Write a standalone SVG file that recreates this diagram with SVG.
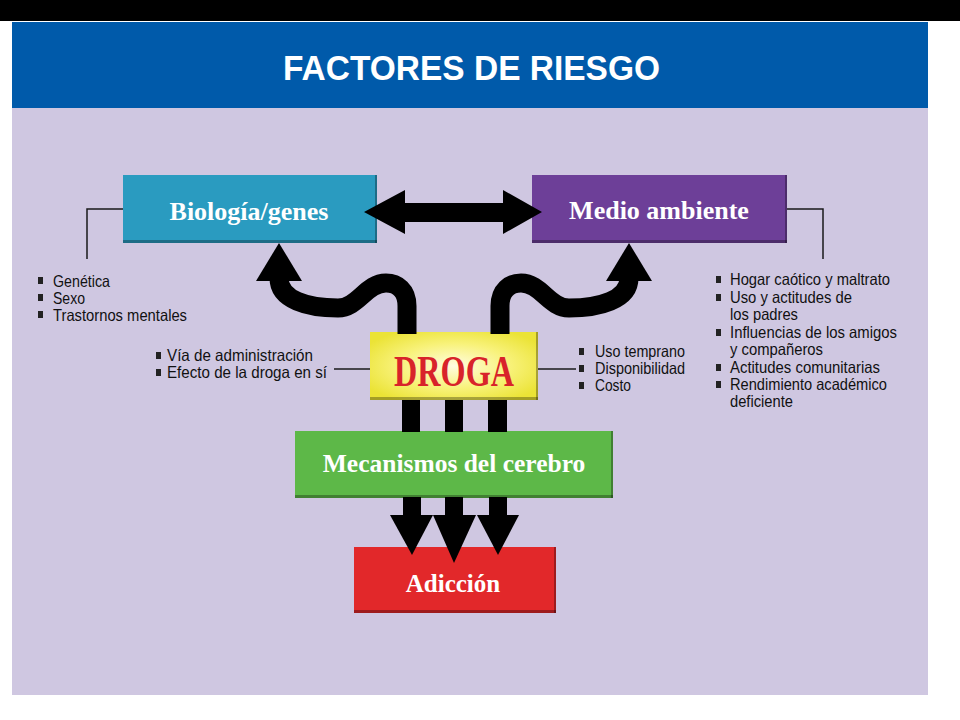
<svg xmlns="http://www.w3.org/2000/svg" width="960" height="720" viewBox="0 0 960 720">
<defs>
<style>
.title{font-family:"Liberation Sans","Arial",sans-serif;font-size:35px;font-weight:bold;fill:#ffffff;}
.box-label{font-family:"Liberation Serif","Times New Roman",serif;font-weight:bold;fill:#ffffff;text-anchor:middle;}
.list{font-family:"Liberation Sans","Arial",sans-serif;font-size:16.5px;fill:#111111;}
.leader{fill:none;stroke:#1a1a1a;stroke-width:1.5;}
.flow{fill:none;stroke:#000000;stroke-width:19;}
.bullet{fill:#222222;}
.shade{fill:#000000;opacity:0.3;}
</style>
<radialGradient id="yellowGrad" cx="0.5" cy="0.5" r="0.6">
<stop offset="0" stop-color="#FFFDE0"/>
<stop offset="0.55" stop-color="#F8F27A"/>
<stop offset="1" stop-color="#EBE336"/>
</radialGradient>
</defs>

<rect x="0" y="0" width="960" height="720" fill="#ffffff"/>
<rect x="0" y="0" width="960" height="21" fill="#000000"/>
<rect x="12" y="22" width="916" height="86" fill="#005AAA"/>
<rect x="12" y="108" width="916" height="587" fill="#CFC7E1"/>
<text class="title" x="283" y="80" textLength="377" lengthAdjust="spacingAndGlyphs">FACTORES DE RIESGO</text>

<g id="node-biologia">
<rect x="123" y="175" width="254" height="68" fill="#2A9BC0"/>
<rect class="shade" x="123" y="240" width="254" height="3"/>
<rect class="shade" x="375" y="175" width="2" height="68"/>
<text class="box-label" x="249" y="220" font-size="26">Biología/genes</text>
</g>

<g id="node-medio">
<rect x="532" y="175" width="255" height="68" fill="#6D3F98"/>
<rect class="shade" x="532" y="240" width="255" height="3"/>
<rect class="shade" x="785" y="175" width="2" height="68"/>
<text class="box-label" x="659" y="219" font-size="26">Medio ambiente</text>
</g>

<g id="node-droga">
<rect x="370" y="332" width="168" height="68" fill="url(#yellowGrad)"/>
<rect class="shade" x="370" y="397" width="168" height="3"/>
<rect class="shade" x="536" y="332" width="2" height="68"/>
<text x="454" y="386" font-family="'Liberation Serif','Times New Roman',serif" font-weight="bold" font-size="44" fill="#D8232A" text-anchor="middle" textLength="120" lengthAdjust="spacingAndGlyphs">DROGA</text>
</g>

<g id="node-mecanismos">
<rect x="295" y="431" width="318" height="67" fill="#5DB848"/>
<rect class="shade" x="295" y="495" width="318" height="3"/>
<rect class="shade" x="611" y="431" width="2" height="67"/>
<text class="box-label" x="454" y="472" font-size="25.5">Mecanismos del cerebro</text>
</g>

<g id="node-adiccion">
<rect x="354" y="547" width="202" height="66" fill="#E2282A"/>
<rect class="shade" x="354" y="610" width="202" height="3"/>
<rect class="shade" x="554" y="547" width="2" height="66"/>
<text class="box-label" x="453" y="592" font-size="25">Adicción</text>
</g>

<g id="connectors">
<!-- double arrow between Biologia and Medio ambiente -->
<polygon points="364,212 405,190 405,203 503,203 503,190 542,212 503,234 503,222 405,222 405,234" fill="#000000"/>
<!-- curvy arrow to Biologia -->
<path class="flow" d="M407,334 V306 C407,290 397,283 386,283 C366,283 358,308 338,308 C308,308 279,300 279,278"/>
<polygon points="256,281 302,281 279,243" fill="#000000"/>
<!-- curvy arrow to Medio ambiente -->
<path class="flow" d="M500,334 V306 C500,290 510,283 521,283 C541,283 549,308 569,308 C599,308 629,300 629,278"/>
<polygon points="606,281 652,281 629,243" fill="#000000"/>
<!-- shafts DROGA to Mecanismos -->
<rect x="402" y="400" width="18" height="32" fill="#000000"/>
<rect x="445" y="400" width="18" height="32" fill="#000000"/>
<rect x="488" y="400" width="19" height="32" fill="#000000"/>
<!-- arrows Mecanismos to Adiccion -->
<rect x="403" y="497" width="18" height="20" fill="#000000"/>
<polygon points="390,515 433,515 412,555" fill="#000000"/>
<rect x="445" y="497" width="18" height="20" fill="#000000"/>
<polygon points="433,515 476,515 454,563" fill="#000000"/>
<rect x="489" y="497" width="18" height="20" fill="#000000"/>
<polygon points="477,515 519,515 498,555" fill="#000000"/>
<!-- leader lines -->
<polyline class="leader" points="123,209 87,209 87,259"/>
<polyline class="leader" points="787,209 823,209 823,259"/>
<line class="leader" x1="334" y1="369" x2="370" y2="369"/>
<line class="leader" x1="538" y1="369" x2="576" y2="369"/>
</g>

<g id="list-biologia">
<rect class="bullet" x="38" y="277" width="5" height="7"/>
<rect class="bullet" x="38" y="294" width="5" height="7"/>
<rect class="bullet" x="38" y="311" width="5" height="7"/>
<text class="list" x="53" y="287" textLength="57" lengthAdjust="spacingAndGlyphs">Genética</text>
<text class="list" x="53" y="304" textLength="32" lengthAdjust="spacingAndGlyphs">Sexo</text>
<text class="list" x="53" y="321" textLength="134" lengthAdjust="spacingAndGlyphs">Trastornos mentales</text>
</g>

<g id="list-droga-left">
<rect class="bullet" x="156" y="352" width="5" height="7"/>
<rect class="bullet" x="156" y="369" width="5" height="7"/>
<text class="list" x="167" y="361" textLength="146" lengthAdjust="spacingAndGlyphs">Vía de administración</text>
<text class="list" x="167" y="378" textLength="160" lengthAdjust="spacingAndGlyphs">Efecto de la droga en sí</text>
</g>

<g id="list-droga-right">
<rect class="bullet" x="579" y="348" width="5" height="7"/>
<rect class="bullet" x="579" y="365" width="5" height="7"/>
<rect class="bullet" x="579" y="382" width="5" height="7"/>
<text class="list" x="595" y="357" textLength="90" lengthAdjust="spacingAndGlyphs">Uso temprano</text>
<text class="list" x="595" y="374" textLength="90" lengthAdjust="spacingAndGlyphs">Disponibilidad</text>
<text class="list" x="595" y="391" textLength="36" lengthAdjust="spacingAndGlyphs">Costo</text>
</g>

<g id="list-medio">
<rect class="bullet" x="716" y="276" width="5" height="7"/>
<rect class="bullet" x="716" y="294" width="5" height="7"/>
<rect class="bullet" x="716" y="329" width="5" height="7"/>
<rect class="bullet" x="716" y="364" width="5" height="7"/>
<rect class="bullet" x="716" y="381" width="5" height="7"/>
<text class="list" x="730" y="285" textLength="160" lengthAdjust="spacingAndGlyphs">Hogar caótico y maltrato</text>
<text class="list" x="730" y="303" textLength="122" lengthAdjust="spacingAndGlyphs">Uso y actitudes de</text>
<text class="list" x="730" y="320" textLength="68" lengthAdjust="spacingAndGlyphs">los padres</text>
<text class="list" x="730" y="338" textLength="167" lengthAdjust="spacingAndGlyphs">Influencias de los amigos</text>
<text class="list" x="730" y="355" textLength="93" lengthAdjust="spacingAndGlyphs">y compañeros</text>
<text class="list" x="730" y="373" textLength="150" lengthAdjust="spacingAndGlyphs">Actitudes comunitarias</text>
<text class="list" x="730" y="390" textLength="157" lengthAdjust="spacingAndGlyphs">Rendimiento académico</text>
<text class="list" x="730" y="407" textLength="63" lengthAdjust="spacingAndGlyphs">deficiente</text>
</g>
</svg>
